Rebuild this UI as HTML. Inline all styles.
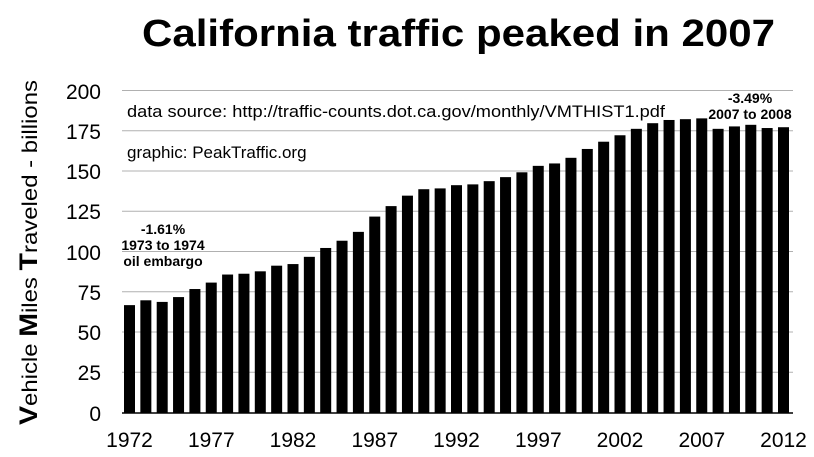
<!DOCTYPE html>
<html><head><meta charset="utf-8"><style>
html,body{margin:0;padding:0;background:#fff;width:814px;height:457px;overflow:hidden}
</style></head><body>
<svg width="814" height="457" xmlns="http://www.w3.org/2000/svg" font-family="Liberation Sans, sans-serif">
<text x="142" y="46" font-size="38" font-weight="bold" textLength="633" lengthAdjust="spacingAndGlyphs">California traffic peaked in 2007</text>
<g stroke="#b0b0b0" stroke-width="1">
<line x1="122" x2="793" y1="90.5" y2="90.5"/>
<line x1="122" x2="793" y1="130.75" y2="130.75"/>
<line x1="122" x2="793" y1="171" y2="171"/>
<line x1="122" x2="793" y1="211.25" y2="211.25"/>
<line x1="122" x2="793" y1="251.5" y2="251.5"/>
<line x1="122" x2="793" y1="291.75" y2="291.75"/>
<line x1="122" x2="793" y1="332" y2="332"/>
<line x1="122" x2="793" y1="372.25" y2="372.25"/>
</g>
<g font-size="21" text-anchor="end" fill="#000">
<text x="101" y="99">200</text><text x="101" y="139">175</text><text x="101" y="179">150</text><text x="101" y="219">125</text><text x="101" y="260">100</text><text x="101" y="300">75</text><text x="101" y="340">50</text><text x="101" y="380">25</text><text x="101" y="421">0</text>
</g>
<text transform="translate(37,425) rotate(-90)" font-size="21" textLength="345" lengthAdjust="spacingAndGlyphs"><tspan font-weight="bold" font-size="25">V</tspan>ehicle <tspan font-weight="bold" font-size="25">M</tspan>iles <tspan font-weight="bold" font-size="25">T</tspan>raveled - billions</text>
<g fill="#000">
<rect x="124.0" y="305.13" width="11" height="107.87"/>
<rect x="140.35" y="300.3" width="11" height="112.7"/>
<rect x="156.7" y="301.91" width="11" height="111.09"/>
<rect x="173.05" y="297.08" width="11" height="115.92"/>
<rect x="189.4" y="289.03" width="11" height="123.97"/>
<rect x="205.75" y="282.59" width="11" height="130.41"/>
<rect x="222.1" y="274.54" width="11" height="138.46"/>
<rect x="238.45" y="273.73" width="11" height="139.27"/>
<rect x="254.8" y="271.32" width="11" height="141.68"/>
<rect x="271.15" y="265.68" width="11" height="147.32"/>
<rect x="287.5" y="264.07" width="11" height="148.93"/>
<rect x="303.85" y="256.83" width="11" height="156.17"/>
<rect x="320.2" y="247.97" width="11" height="165.03"/>
<rect x="336.55" y="240.73" width="11" height="172.27"/>
<rect x="352.9" y="231.87" width="11" height="181.13"/>
<rect x="369.25" y="216.58" width="11" height="196.42"/>
<rect x="385.6" y="206.11" width="11" height="206.89"/>
<rect x="401.95" y="195.65" width="11" height="217.35"/>
<rect x="418.3" y="189.21" width="11" height="223.79"/>
<rect x="434.65" y="188.4" width="11" height="224.6"/>
<rect x="451.0" y="185.18" width="11" height="227.82"/>
<rect x="467.35" y="184.38" width="11" height="228.62"/>
<rect x="483.7" y="181.16" width="11" height="231.84"/>
<rect x="500.05" y="177.13" width="11" height="235.87"/>
<rect x="516.4" y="172.3" width="11" height="240.7"/>
<rect x="532.75" y="165.86" width="11" height="247.14"/>
<rect x="549.1" y="163.45" width="11" height="249.55"/>
<rect x="565.45" y="157.81" width="11" height="255.19"/>
<rect x="581.8" y="148.96" width="11" height="264.04"/>
<rect x="598.15" y="141.71" width="11" height="271.29"/>
<rect x="614.5" y="135.27" width="11" height="277.73"/>
<rect x="630.85" y="128.83" width="11" height="284.17"/>
<rect x="647.2" y="123.2" width="11" height="289.8"/>
<rect x="663.55" y="119.98" width="11" height="293.02"/>
<rect x="679.9" y="119.17" width="11" height="293.83"/>
<rect x="696.25" y="118.37" width="11" height="294.63"/>
<rect x="712.6" y="128.83" width="11" height="284.17"/>
<rect x="728.95" y="126.42" width="11" height="286.58"/>
<rect x="745.3" y="124.81" width="11" height="288.19"/>
<rect x="761.65" y="128.03" width="11" height="284.97"/>
<rect x="778.0" y="127.22" width="11" height="285.78"/>
</g>
<line x1="122" x2="793" y1="413" y2="413" stroke="#000" stroke-width="1.5"/>
<g font-size="21" text-anchor="middle">
<text x="129.5" y="447">1972</text><text x="211.3" y="447">1977</text><text x="293" y="447">1982</text><text x="374.8" y="447">1987</text><text x="456.5" y="447">1992</text><text x="538.3" y="447">1997</text><text x="620" y="447">2002</text><text x="701.8" y="447">2007</text><text x="783.5" y="447">2012</text>
</g>
<text x="127" y="117" font-size="17" textLength="538" lengthAdjust="spacingAndGlyphs">data source:  http://traffic-counts.dot.ca.gov/monthly/VMTHIST1.pdf</text>
<text x="127" y="158" font-size="17">graphic: PeakTraffic.org</text>
<g font-size="14" font-weight="bold" text-anchor="middle">
<text x="163" y="234">-1.61%</text><text x="163" y="250">1973 to 1974</text><text x="163" y="266">oil embargo</text>
<text x="750" y="103">-3.49%</text><text x="750" y="119">2007 to 2008</text>
</g>
</svg>
</body></html>
